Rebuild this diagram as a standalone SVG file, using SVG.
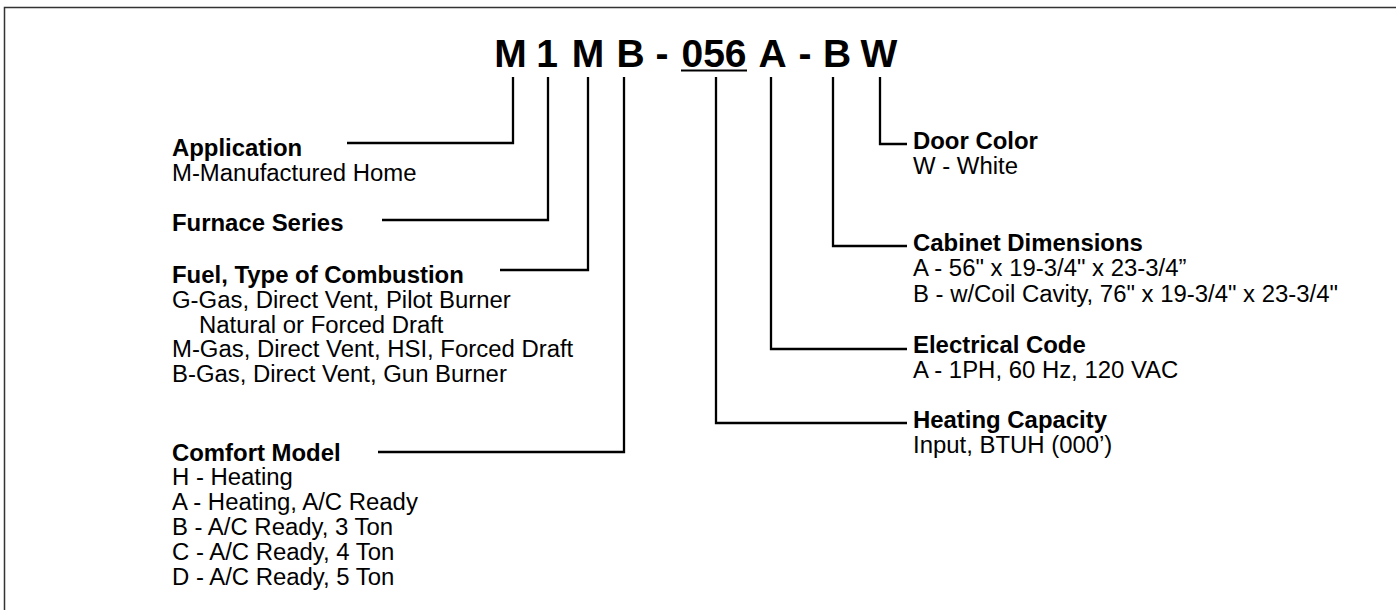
<svg xmlns="http://www.w3.org/2000/svg" width="1396" height="610" viewBox="0 0 1396 610">
<style>
.t{font-family:"Liberation Sans",Arial,Helvetica,sans-serif;fill:#000}
.title{font-size:39px;font-weight:bold;text-anchor:middle}
.h{font-size:23px;font-weight:bold}
.b{font-size:23px}
.c{fill:none;stroke:#000;stroke-width:2.3}
</style>
<rect x="4.5" y="7.5" width="1400" height="620" fill="#fff" stroke="#333" stroke-width="1.5"/>
<g id="title" class="t title">
<text x="510.5" y="67">M</text>
<text x="547" y="67">1</text>
<text x="588" y="67">M</text>
<text x="630.5" y="67">B</text>
<text x="662" y="67">-</text>
<text x="714" y="67">056</text>
<text x="772.7" y="67">A</text>
<text x="805" y="67">-</text>
<text x="837" y="67">B</text>
<text x="879" y="67">W</text>
</g>
<g id="connectors" class="c">
<line x1="681" y1="70.5" x2="747" y2="70.5" stroke-width="1.8"/>
<polyline points="513,77 513,143 347,143"/>
<polyline points="548,77 548,220 382,220"/>
<polyline points="588,77 588,270 500,270"/>
<polyline points="624,77 624,452 378,452"/>
<polyline points="716,77 716,423 907,423"/>
<polyline points="771,77 771,349 907,349"/>
<polyline points="833,77 833,246 907,246"/>
<polyline points="880,77 880,144 907,144"/>
</g>
<g transform="matrix(1.04 0 0 1 -6.88 0)">
<g id="application" class="t">
<text class="h" x="172" y="156">Application</text>
<text class="b" x="172" y="181">M-Manufactured Home</text>
</g>
<g id="furnace-series" class="t">
<text class="h" x="172" y="231">Furnace Series</text>
</g>
<g id="fuel" class="t">
<text class="h" x="172" y="283">Fuel, Type of Combustion</text>
<text class="b" x="172" y="308">G-Gas, Direct Vent, Pilot Burner</text>
<text class="b" x="198" y="333">Natural or Forced Draft</text>
<text class="b" x="172" y="357">M-Gas, Direct Vent, HSI, Forced Draft</text>
<text class="b" x="172" y="382">B-Gas, Direct Vent, Gun Burner</text>
</g>
<g id="comfort-model" class="t">
<text class="h" x="172" y="461">Comfort Model</text>
<text class="b" x="172" y="485">H - Heating</text>
<text class="b" x="172" y="510">A - Heating, A/C Ready</text>
<text class="b" x="172" y="535">B - A/C Ready, 3 Ton</text>
<text class="b" x="172" y="560">C - A/C Ready, 4 Ton</text>
<text class="b" x="172" y="585">D - A/C Ready, 5 Ton</text>
</g>
</g>
<g transform="matrix(1.04 0 0 1 -36.52 0)">
<g id="door-color" class="t">
<text class="h" x="913" y="149">Door Color</text>
<text class="b" x="913" y="174">W - White</text>
</g>
<g id="cabinet-dimensions" class="t">
<text class="h" x="913" y="251">Cabinet Dimensions</text>
<text class="b" x="913" y="276">A - 56" x 19-3/4" x 23-3/4”</text>
<text class="b" x="913" y="302">B - w/Coil Cavity, 76" x 19-3/4" x 23-3/4"</text>
</g>
<g id="electrical-code" class="t">
<text class="h" x="913" y="353">Electrical Code</text>
<text class="b" x="913" y="378">A - 1PH, 60 Hz, 120 VAC</text>
</g>
<g id="heating-capacity" class="t">
<text class="h" x="913" y="428">Heating Capacity</text>
<text class="b" x="913" y="453">Input, BTUH (000’)</text>
</g>
</g>
</svg>
